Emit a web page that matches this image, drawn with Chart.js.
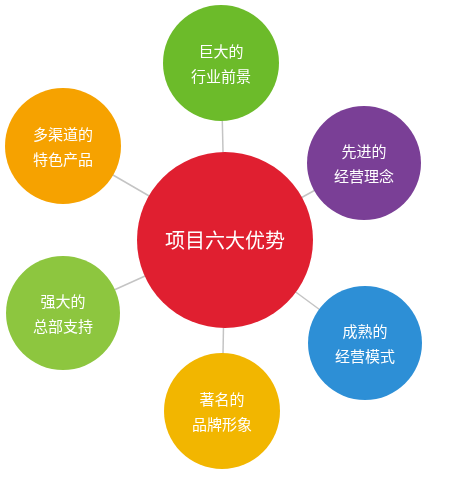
<!DOCTYPE html>
<html>
<head>
<meta charset="utf-8">
<script src="https://cdn.jsdelivr.net/npm/chart.js@4/dist/chart.umd.min.js"></script>
<style>
html,body{margin:0;padding:0;background:#fff;}
#wrap{width:450px;height:482px;}
</style>
</head>
<body>
<div id="wrap"><canvas id="myChart"></canvas></div>
<script>
// nodes of the diagram
var labels = [['巨大的','行业前景'], ['先进的','经营理念'], ['成熟的','经营模式'], ['著名的','品牌形象'], ['强大的','总部支持'], ['多渠道的','特色产品']];
var nodeX = [221, 364, 365, 222, 63, 63];
var nodeY = [63, 163, 343, 411, 313, 146];
var nodeR = [58, 57, 57, 58, 57, 58];
var colors = ['#6cbb2a', '#7a3f96', '#2d8fd6', '#f2b600', '#8dc63f', '#f6a200'];
var centerLabel = '项目六大优势';
var centerX = 225, centerY = 240, centerR = 88;

function drawChart()
{
    var ctx = document.getElementById('myChart').getContext('2d');

    var spokes = [];
    for (var i = 0; i < nodeX.length; i++) {
        spokes.push({
            type: 'line',
            data: [{x: centerX, y: centerY}, {x: nodeX[i], y: nodeY[i]}],
            borderColor: '#c4c4c4',
            borderWidth: 1.5,
            pointRadius: 0,
            clip: false,
            order: 3
        });
    }

    var textPlugin = {
        id: 'nodeText',
        afterDatasetsDraw: function(chart) {
            var c = chart.ctx, xs = chart.scales.x, ys = chart.scales.y;
            c.save();
            c.fillStyle = '#fff';
            c.textAlign = 'center';
            c.textBaseline = 'middle';
            c.font = '15px "Noto Sans CJK SC"';
            for (var i = 0; i < labels.length; i++) {
                var px = xs.getPixelForValue(nodeX[i]), py = ys.getPixelForValue(nodeY[i]);
                c.fillText(labels[i][0], px, py - 12);
                c.fillText(labels[i][1], px, py + 13);
            }
            c.font = '20px "Noto Sans CJK SC"';
            c.fillText(centerLabel, xs.getPixelForValue(centerX), ys.getPixelForValue(centerY));
            c.restore();
        }
    };

    var chart = new Chart(ctx, {
        type: 'bubble',
        data: {
            datasets: spokes.concat([
                {
                    data: nodeX.map(function(x, i) { return {x: x, y: nodeY[i], r: nodeR[i]}; }),
                    backgroundColor: colors,
                    borderWidth: 0,
                    clip: false,
                    order: 2
                },
                {
                    data: [{x: centerX, y: centerY, r: centerR}],
                    backgroundColor: '#e01f30',
                    borderWidth: 0,
                    clip: false,
                    order: 1
                }
            ])
        },
        options: {
            responsive: true,
            maintainAspectRatio: false,
            animation: false,
            layout: { padding: 0, autoPadding: false },
            plugins: { legend: { display: false }, tooltip: { enabled: false } },
            scales: {
                x: { type: 'linear', min: 0, max: 450, display: false },
                y: { type: 'linear', min: 0, max: 482, reverse: true, display: false }
            },
            elements: { point: { hoverRadius: 0 } }
        },
        plugins: [textPlugin]
    });
}
drawChart();
</script>
</body>
</html>
